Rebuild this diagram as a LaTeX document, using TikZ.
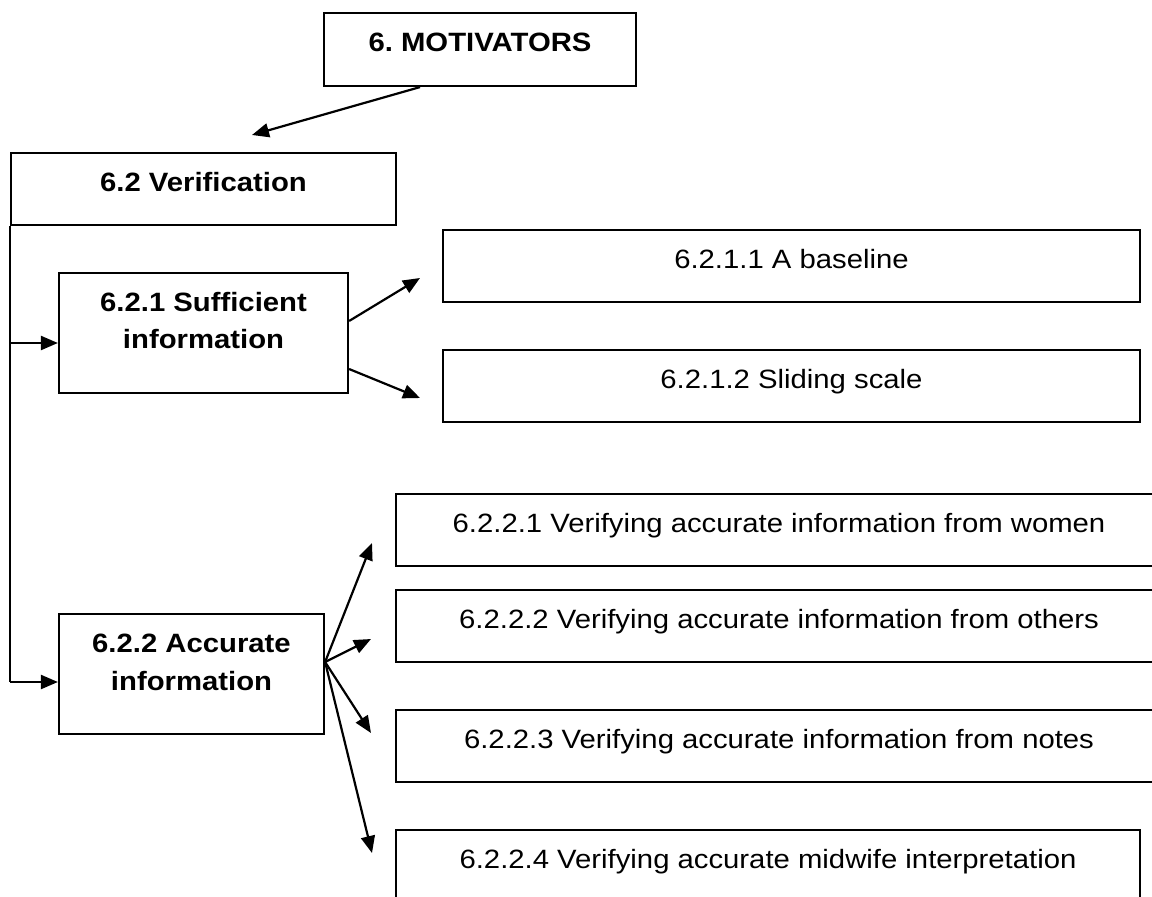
\documentclass[tikz,border=0pt]{standalone}
\usepackage{fontspec}
\setmainfont[FakeStretch=1.105]{Liberation Sans}
\usetikzlibrary{arrows.meta}
\frenchspacing
\begin{document}
\begin{tikzpicture}[x=1pt,y=-1pt,
  box/.style={draw, line width=2.2pt, inner sep=0pt},
  txt/.style={inner sep=0pt, anchor=base, font=\fontsize{26.5pt}{30pt}\selectfont},
  btxt/.style={txt, font=\fontsize{26.5pt}{30pt}\selectfont\bfseries},
  conn/.style={line width=2.2pt},
  arr/.style={conn, -{Triangle[length=17pt,width=14pt]}}]
\clip (0,0) rectangle (1152,897);
\fill[white] (0,0) rectangle (1152,897);
% boxes
\node[box, minimum width=312pt, minimum height=73pt] (mot) at (480,49.5) {};
\node[box, minimum width=385pt, minimum height=72pt] (ver) at (203.5,189) {};
\node[box, minimum width=289pt, minimum height=120pt] (b621) at (203.5,333) {};
\node[box, minimum width=697pt, minimum height=72pt] (b6211) at (791.5,266) {};
\node[box, minimum width=697pt, minimum height=72pt] (b6212) at (791.5,386) {};
\node[box, minimum width=265pt, minimum height=120pt] (b622) at (191.5,674) {};
\node[box, minimum width=766pt, minimum height=72pt] (b6221) at (779,530) {};
\node[box, minimum width=766pt, minimum height=72pt] (b6222) at (779,626) {};
\node[box, minimum width=766pt, minimum height=72pt] (b6223) at (779,746) {};
\node[box, minimum width=744pt, minimum height=72pt] (b6224) at (768,866) {};
% texts
\node[btxt] (tmot) at (480,51) {6. MOTIVATORS};
\node[btxt] (tver) at (203.5,191) {6.2 Verification};
\node[btxt] (t621a) at (203.5,311) {6.2.1 Sufficient};
\node[btxt] (t621b) at (203.5,348.5) {information};
\node[btxt] (t622a) at (191.5,652) {6.2.2 Accurate};
\node[btxt] (t622b) at (191.5,690) {information};
\node[txt] (t6211) at (791.5,268) {6.2.1.1 A baseline};
\node[txt] (t6212) at (791.5,388) {6.2.1.2 Sliding scale};
\node[txt] (t6221) at (779,532) {6.2.2.1 Verifying accurate information from women};
\node[txt] (t6222) at (779,628) {6.2.2.2 Verifying accurate information from others};
\node[txt] (t6223) at (779,748) {6.2.2.3 Verifying accurate information from notes};
\node[txt] (t6224) at (768,868) {6.2.2.4 Verifying accurate midwife interpretation};
% free arrow ends
\coordinate (emot) at (252,135);
\coordinate (e1) at (420,278);
\coordinate (e2) at (420,398);
\coordinate (f1) at (372,543);
\coordinate (f2) at (371,639);
\coordinate (f3) at (371,733);
\coordinate (f4) at (372,853);
% connectors
\draw[arr] ([xshift=-60pt]mot.south) -- (emot);
\draw[conn] (ver.south west) -- ([yshift=-8pt]b622.west -| ver.south west);
\draw[arr] ([yshift=-10pt]b621.west -| ver.south west) -- ([yshift=-10pt]b621.west);
\draw[arr] ([yshift=-8pt]b622.west -| ver.south west) -- ([yshift=-8pt]b622.west);
\draw[arr] ([yshift=12pt]b621.east) -- (e1);
\draw[arr] ([yshift=-36pt]b621.east) -- (e2);
\draw[arr] ([yshift=12pt]b622.east) -- (f1);
\draw[arr] ([yshift=12pt]b622.east) -- (f2);
\draw[arr] ([yshift=12pt]b622.east) -- (f3);
\draw[arr] ([yshift=12pt]b622.east) -- (f4);
\end{tikzpicture}
\end{document}
